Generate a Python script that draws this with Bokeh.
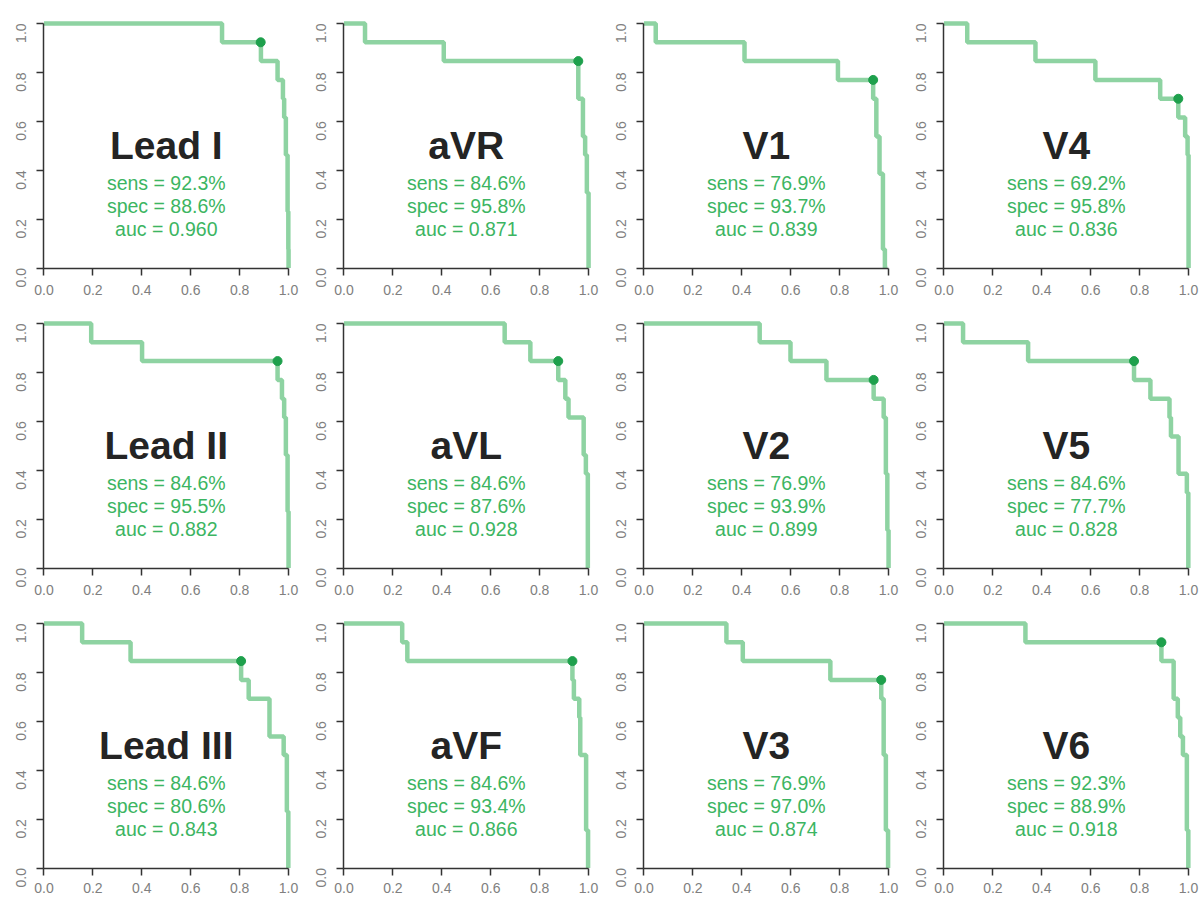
import math
from bokeh.plotting import figure
from bokeh.layouts import column, row
from bokeh.models import Range1d, FixedTicker
from bokeh.core.properties import value
from bokeh.embed import file_html
from bokeh.resources import INLINE

# ---------------- data ----------------
leads = ["Lead I", "aVR", "V1", "V4",
         "Lead II", "aVL", "V2", "V5",
         "Lead III", "aVF", "V3", "V6"]
sens_pct = [92.3, 84.6, 76.9, 69.2, 84.6, 84.6, 76.9, 84.6, 84.6, 84.6, 76.9, 92.3]
spec_pct = [88.6, 95.8, 93.7, 95.8, 95.5, 87.6, 93.9, 77.7, 80.6, 93.4, 97.0, 88.9]
auc_vals = [0.960, 0.871, 0.839, 0.836, 0.882, 0.928, 0.899, 0.828, 0.843, 0.866, 0.874, 0.918]

tick_vals = [0.0, 0.2, 0.4, 0.6, 0.8, 1.0]
tick_labels = ["0.0", "0.2", "0.4", "0.6", "0.8", "1.0"]

# ROC step curves: specificity (x) where sensitivity (y) drops
roc_x_lead1 = [0, 0.728, 0.887, 0.955, 0.977, 0.982, 0.989, 0.996, 0.999, 1.0]
roc_y_lead1 = [1, 0.923, 0.846, 0.769, 0.692, 0.615, 0.462, 0.231, 0.077, 0]
roc_x_avr = [0, 0.086, 0.408, 0.958, 0.977, 0.986, 0.993, 1.0]
roc_y_avr = [1, 0.923, 0.846, 0.692, 0.538, 0.462, 0.308, 0]
roc_x_v1 = [0, 0.048, 0.411, 0.793, 0.937, 0.950, 0.963, 0.977, 0.985, 0.995]
roc_y_v1 = [1, 0.923, 0.846, 0.769, 0.692, 0.538, 0.385, 0.077, 0, 0]
roc_x_v4 = [0, 0.095, 0.374, 0.619, 0.884, 0.958, 0.986, 0.996, 1.0]
roc_y_v4 = [1, 0.923, 0.846, 0.769, 0.692, 0.615, 0.538, 0.462, 0]
roc_x_lead2 = [0, 0.193, 0.401, 0.955, 0.973, 0.982, 0.989, 0.996, 1.0]
roc_y_lead2 = [1, 0.923, 0.846, 0.769, 0.692, 0.615, 0.462, 0.231, 0]
roc_x_avl = [0, 0.657, 0.762, 0.876, 0.905, 0.918, 0.980, 0.989, 0.997]
roc_y_avl = [1, 0.923, 0.846, 0.769, 0.692, 0.615, 0.462, 0.385, 0]
roc_x_v2 = [0, 0.473, 0.599, 0.746, 0.939, 0.980, 0.989, 0.995, 1.0]
roc_y_v2 = [1, 0.923, 0.846, 0.769, 0.692, 0.615, 0.385, 0.154, 0]
roc_x_v5 = [0, 0.078, 0.344, 0.777, 0.844, 0.922, 0.928, 0.959, 0.993, 0.999]
roc_y_v5 = [1, 0.923, 0.846, 0.769, 0.692, 0.615, 0.538, 0.385, 0.308, 0]
roc_x_lead3 = [0, 0.156, 0.354, 0.806, 0.837, 0.922, 0.980, 0.993, 0.999]
roc_y_lead3 = [1, 0.923, 0.846, 0.769, 0.692, 0.538, 0.462, 0.231, 0]
roc_x_avf = [0, 0.238, 0.259, 0.934, 0.940, 0.962, 0.966, 0.990, 0.998]
roc_y_avf = [1, 0.923, 0.846, 0.769, 0.692, 0.615, 0.462, 0.154, 0]
roc_x_v3 = [0, 0.337, 0.404, 0.762, 0.970, 0.980, 0.989, 0.998]
roc_y_v3 = [1, 0.923, 0.846, 0.769, 0.692, 0.462, 0.154, 0]
roc_x_v6 = [0, 0.333, 0.889, 0.939, 0.956, 0.966, 0.977, 0.993, 0.999]
roc_y_v6 = [1, 0.923, 0.846, 0.692, 0.615, 0.538, 0.462, 0.154, 0]

roc_x = [roc_x_lead1, roc_x_avr, roc_x_v1, roc_x_v4,
         roc_x_lead2, roc_x_avl, roc_x_v2, roc_x_v5,
         roc_x_lead3, roc_x_avf, roc_x_v3, roc_x_v6]
roc_y = [roc_y_lead1, roc_y_avr, roc_y_v1, roc_y_v4,
         roc_y_lead2, roc_y_avl, roc_y_v2, roc_y_v5,
         roc_y_lead3, roc_y_avf, roc_y_v3, roc_y_v6]

# ---------------- style ----------------
LINE_GREEN = "#8ed3a2"
DOT_GREEN = "#1ea04c"
TEXT_GREEN = "#3cb562"
TITLE_COLOR = "#242424"
AXIS_COLOR = "#333333"
TICK_LABEL_COLOR = "#808080"
FONT = "Liberation Sans"
PAD_LO = 0.002
PAD_HI = 0.012

FRAME_W = 248
FRAME_H = 248
LEFT = 43
TOP = 20


def make_panel(i):
    r, c = divmod(i, 4)
    width = 300 if c < 3 else 299
    height = 300 if r < 2 else 298
    p = figure(width=width, height=height,
               x_range=Range1d(-PAD_LO, 1 + PAD_HI),
               y_range=Range1d(-PAD_LO, 1 + PAD_HI),
               output_backend="svg", toolbar_location=None,
               min_border_left=LEFT, min_border_right=width - LEFT - FRAME_W,
               min_border_top=TOP, min_border_bottom=height - TOP - FRAME_H)
    p.outline_line_color = None
    p.grid.visible = False
    p.background_fill_color = "white"
    p.border_fill_color = "white"

    for ax in (p.xaxis[0], p.yaxis[0]):
        ax.ticker = FixedTicker(ticks=tick_vals)
        ax.major_label_overrides = {v: s for v, s in zip(tick_vals, tick_labels)}
        ax.bounds = (0, 1)
        ax.axis_line_color = AXIS_COLOR
        ax.axis_line_width = 1.5
        ax.major_tick_line_color = AXIS_COLOR
        ax.major_tick_line_width = 1.5
        ax.major_tick_in = 0
        ax.major_tick_out = 7
        ax.minor_tick_line_color = None
        ax.major_label_text_font = FONT
        ax.major_label_text_font_size = "14px"
        ax.major_label_text_color = TICK_LABEL_COLOR
    p.xaxis.major_label_standoff = 9 if r < 2 else 7
    p.yaxis.major_label_standoff = 15
    p.yaxis.major_label_orientation = math.pi / 2

    p.step(x=roc_x[i], y=roc_y[i], mode="after",
           line_color=LINE_GREEN, line_width=4.5)
    p.scatter(x=[spec_pct[i] / 100], y=[sens_pct[i] / 100],
              size=9, color=DOT_GREEN)

    p.text(x=[0.5], y=[0.502], text=[leads[i]],
           text_font=value(FONT), text_font_style="bold",
           text_font_size="39px", text_align="center",
           text_baseline="middle", text_color=TITLE_COLOR)
    lines = [f"sens = {sens_pct[i]:.1f}%",
             f"spec = {spec_pct[i]:.1f}%",
             f"auc = {auc_vals[i]:.3f}"]
    p.text(x=[0.5, 0.5, 0.5], y=[0.346, 0.253, 0.159], text=lines,
           text_font=value(FONT), text_font_size="19.5px",
           text_align="center", text_baseline="middle",
           text_color=TEXT_GREEN)
    return p


panels = [make_panel(i) for i in range(12)]
layout = column(*[row(*panels[k * 4:(k + 1) * 4]) for k in range(3)])

open("out.html", "w").write(file_html(layout, INLINE))
